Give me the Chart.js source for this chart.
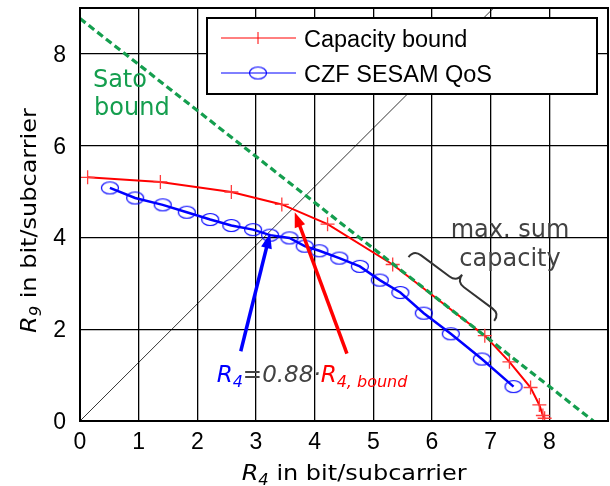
<!DOCTYPE html>
<html>
<head>
<meta charset="utf-8">
<script src="https://cdn.jsdelivr.net/npm/chart.js@4.4.1/dist/chart.umd.min.js"></script>
<style>
  html, body { margin: 0; padding: 0; background: #fff; }
</style>
</head>
<body>
<canvas id="chart" width="610" height="486"></canvas>
<script>
// Capacity bound (red, "+" markers)
const capX = [0.13, 1.37, 2.58, 3.44, 4.22, 5.33, 6.90, 7.32, 7.68, 7.83, 7.89, 7.92];
const capY = [5.31, 5.21, 4.99, 4.72, 4.29, 3.41, 1.86, 1.29, 0.73, 0.35, 0.12, 0.06];

// CZF SESAM QoS (blue, circle markers)
const czfX = [0.51, 0.94, 1.41, 1.82, 2.22, 2.58, 2.95, 3.24, 3.57, 3.83, 4.08, 4.42, 4.77, 5.11, 5.46, 5.86, 6.32, 6.85, 7.39];
const czfY = [5.08, 4.86, 4.71, 4.55, 4.39, 4.26, 4.17, 4.05, 3.99, 3.81, 3.71, 3.55, 3.37, 3.07, 2.80, 2.35, 1.90, 1.35, 0.75];

// Sato bound (green dashed) and the R4 = R9 reference line
const satoX = [0, 8.75];
const satoY = [8.77, 0];
const diagX = [0, 7.05];
const diagY = [0, 9];

const xTicks = [0, 1, 2, 3, 4, 5, 6, 7, 8];
const yTicks = [0, 2, 4, 6, 8];

const GREEN = 'rgb(20,158,78)';
const GRAY = '#424242';
const RED = '#ff0000';
const BLUE = '#0000ff';

const pts = (xs, ys) => xs.map((x, i) => ({ x: x, y: ys[i] }));

// circles in the figure are a bit wider than tall
function ellipseMarker() {
  const c = document.createElement('canvas');
  c.width = 20; c.height = 15;
  const g = c.getContext('2d');
  g.strokeStyle = BLUE;
  g.lineWidth = 1.2;
  g.beginPath();
  g.ellipse(10, 7.5, 8.5, 6, 0, 0, Math.PI * 2);
  g.stroke();
  return c;
}
const circle = ellipseMarker();

// draw text made of several runs (for subscripts / colours)
function runsWidth(ctx, runs) {
  let w = 0;
  for (const r of runs) { ctx.font = r[1]; w += ctx.measureText(r[0]).width; }
  return w;
}
function drawRuns(ctx, runs, x, y, sx) {
  ctx.save();
  ctx.translate(x, y);
  ctx.scale(sx || 1, 1);
  ctx.textAlign = 'left';
  ctx.textBaseline = 'alphabetic';
  let cx = 0;
  for (const [t, font, color, dy] of runs) {
    ctx.font = font;
    ctx.fillStyle = color;
    ctx.fillText(t, cx, dy || 0);
    cx += ctx.measureText(t).width;
  }
  ctx.restore();
}

function arrow(ctx, x0, y0, x1, y1, color) {
  const a = Math.atan2(y1 - y0, x1 - x0), L = 15, H = 5.5;
  const c = Math.cos(a), s = Math.sin(a);
  ctx.strokeStyle = color;
  ctx.lineWidth = 3.5;
  ctx.beginPath();
  ctx.moveTo(x0, y0);
  ctx.lineTo(x1 - L * 0.8 * c, y1 - L * 0.8 * s);
  ctx.stroke();
  ctx.fillStyle = color;
  ctx.beginPath();
  ctx.moveTo(x1, y1);
  ctx.lineTo(x1 - L * c + H * s, y1 - L * s - H * c);
  ctx.lineTo(x1 - L * c - H * s, y1 - L * s + H * c);
  ctx.closePath();
  ctx.fill();
}

function brace(ctx, p0, p1, h) {
  const dx = p1[0] - p0[0], dy = p1[1] - p0[1];
  const len = Math.hypot(dx, dy);
  const u = [dx / len, dy / len];
  const n = [u[1], -u[0]];
  const a = h * 0.5, q = 9;
  const P = (base, du, dn) => [base[0] + u[0] * du + n[0] * dn, base[1] + u[1] * du + n[1] * dn];
  const m = [(p0[0] + p1[0]) / 2, (p0[1] + p1[1]) / 2];
  ctx.strokeStyle = '#333';
  ctx.lineWidth = 2;
  ctx.beginPath();
  ctx.moveTo(p0[0], p0[1]);
  let c1 = P(p0, 0, a), e1 = P(p0, q, a);
  ctx.quadraticCurveTo(c1[0], c1[1], e1[0], e1[1]);
  let l1 = P(m, -q, a);
  ctx.lineTo(l1[0], l1[1]);
  let c2 = P(m, 0, a), tip = P(m, 0, h);
  ctx.quadraticCurveTo(c2[0], c2[1], tip[0], tip[1]);
  let e2 = P(m, q, a);
  ctx.quadraticCurveTo(c2[0], c2[1], e2[0], e2[1]);
  let l2 = P(p1, -q, a);
  ctx.lineTo(l2[0], l2[1]);
  let c3 = P(p1, 0, a);
  ctx.quadraticCurveTo(c3[0], c3[1], p1[0], p1[1]);
  ctx.stroke();
}

// annotation anchors, in data units
const arrows = [
  { from: [2.74, 1.52], to: [3.24, 4.09], color: BLUE },
  { from: [4.55, 1.47], to: [3.66, 4.55], color: RED }
];
const braceFrom = [5.60, 3.57];
const braceTo = [7.06, 2.18];

const overlay = {
  id: 'overlay',
  afterDraw(chart) {
    const ctx = chart.ctx;
    const xs = chart.scales.x, ys = chart.scales.y;
    const P = (v) => [xs.getPixelForValue(v[0]), ys.getPixelForValue(v[1])];
    const area = chart.chartArea;

    // frame round the plot
    ctx.strokeStyle = '#000';
    ctx.lineWidth = 2;
    ctx.strokeRect(area.left, area.top, area.right - area.left, area.bottom - area.top);

    // tick labels
    ctx.font = '23px "Liberation Sans"';
    ctx.fillStyle = '#000';
    ctx.textAlign = 'center';
    ctx.textBaseline = 'alphabetic';
    for (const v of xTicks) ctx.fillText(String(v), xs.getPixelForValue(v), area.bottom + 28);
    ctx.textAlign = 'right';
    for (const v of yTicks) ctx.fillText(String(v), area.left - 14, ys.getPixelForValue(v) + 8);

    // arrows
    for (const ar of arrows) {
      const f = P(ar.from), t = P(ar.to);
      arrow(ctx, f[0], f[1], t[0], t[1], ar.color);
    }

    // brace for "max. sum capacity"
    brace(ctx, P(braceFrom), P(braceTo), 18);

    // free texts
    const dj = (s, st) => (st || '') + ' ' + s + 'px "DejaVu Sans"';
    let p = P([0.22, 7.27]);
    drawRuns(ctx, [['Sato', dj(24), GREEN]], p[0], p[1]);
    p = P([0.24, 6.66]);
    drawRuns(ctx, [['bound', dj(24), GREEN]], p[0], p[1]);

    const ms = [['max. sum', dj(24), GRAY]];
    p = P([7.33, 4.0]);
    drawRuns(ctx, ms, p[0] - runsWidth(ctx, ms) / 2, p[1]);
    const cp = [['capacity', dj(24), GRAY]];
    p = P([7.33, 3.37]);
    drawRuns(ctx, cp, p[0] - runsWidth(ctx, cp) / 2, p[1]);

    p = P([2.33, 0.85]);
    drawRuns(ctx, [
      ['R', dj(23, 'oblique'), BLUE],
      ['4', dj(16, 'oblique'), BLUE, 5],
      ['=0.88\u00b7', dj(23, 'oblique'), GRAY],
      ['R', dj(23, 'oblique'), RED],
      ['4, bound', dj(16, 'oblique'), RED, 5]
    ], p[0], p[1]);

    // axis titles
    drawRuns(ctx, [
      ['R', dj(22, 'oblique'), '#000'],
      ['4', dj(15, 'oblique'), '#000', 5],
      [' in bit/subcarrier', dj(22), '#000']
    ], 241.7, 480, 1.09);

    ctx.save();
    ctx.translate(36, 333);
    ctx.rotate(-Math.PI / 2);
    drawRuns(ctx, [
      ['R', dj(22, 'oblique'), '#000'],
      ['9', dj(15, 'oblique'), '#000', 5],
      [' in bit/subcarrier', dj(22), '#000']
    ], 0, 0, 1.09);
    ctx.restore();

    // legend
    const lx = area.left + 127, ly = area.top + 10, lw = 390, lh = 76;
    ctx.fillStyle = '#fff';
    ctx.fillRect(lx, ly, lw, lh);
    ctx.strokeStyle = '#000';
    ctx.lineWidth = 2;
    ctx.strokeRect(lx, ly, lw, lh);

    ctx.lineWidth = 1;
    ctx.strokeStyle = RED;
    ctx.beginPath();
    ctx.moveTo(lx + 14, ly + 20); ctx.lineTo(lx + 89, ly + 20);
    ctx.moveTo(lx + 51, ly + 14); ctx.lineTo(lx + 51, ly + 26);
    ctx.stroke();
    ctx.strokeStyle = BLUE;
    ctx.beginPath();
    ctx.moveTo(lx + 14, ly + 55); ctx.lineTo(lx + 89, ly + 55);
    ctx.stroke();
    ctx.drawImage(circle, lx + 51 - 10, ly + 55 - 7.5);

    const lf = '23.5px "Liberation Sans"';
    drawRuns(ctx, [['Capacity bound', lf, '#000']], lx + 97, ly + 29);
    drawRuns(ctx, [['CZF SESAM QoS', lf, '#000']], lx + 97, ly + 64);
  }
};

new Chart(document.getElementById('chart'), {
  type: 'scatter',
  data: {
    datasets: [
      {
        label: 'Sato bound',
        data: pts(satoX, satoY),
        showLine: true,
        borderColor: GREEN,
        borderWidth: 3.2,
        borderDash: [7, 4],
        pointRadius: 0
      },
      {
        label: 'Capacity bound',
        data: pts(capX, capY),
        showLine: true,
        borderColor: RED,
        borderWidth: 2,
        pointStyle: 'cross',
        pointRadius: 7,
        pointBorderColor: 'rgb(255,60,60)',
        pointBorderWidth: 1.3
      },
      {
        label: 'CZF SESAM QoS',
        data: pts(czfX, czfY),
        showLine: true,
        borderColor: BLUE,
        borderWidth: 2.5,
        pointStyle: circle,
        pointRadius: 8
      },
      {
        label: 'R4 = R9',
        data: pts(diagX, diagY),
        showLine: true,
        borderColor: '#000',
        borderWidth: 0.8,
        pointRadius: 0
      }
    ]
  },
  options: {
    responsive: false,
    animation: false,
    layout: { autoPadding: false, padding: { top: 8, right: 2, left: 0, bottom: 0 } },
    plugins: {
      legend: { display: false },
      tooltip: { enabled: false }
    },
    scales: {
      x: {
        type: 'linear',
        min: 0,
        max: 9,
        afterFit: (s) => { s.height = 65; },
        grid: { color: '#000', lineWidth: 1.3, drawTicks: false },
        border: { color: '#000', width: 2 },
        ticks: { stepSize: 1, display: false }
      },
      y: {
        type: 'linear',
        min: 0,
        max: 9,
        afterFit: (s) => { s.width = 80; },
        grid: { color: '#000', lineWidth: 1.3, drawTicks: false },
        border: { color: '#000', width: 2 },
        ticks: { stepSize: 2, display: false }
      }
    }
  },
  plugins: [overlay]
});
</script>
</body>
</html>
